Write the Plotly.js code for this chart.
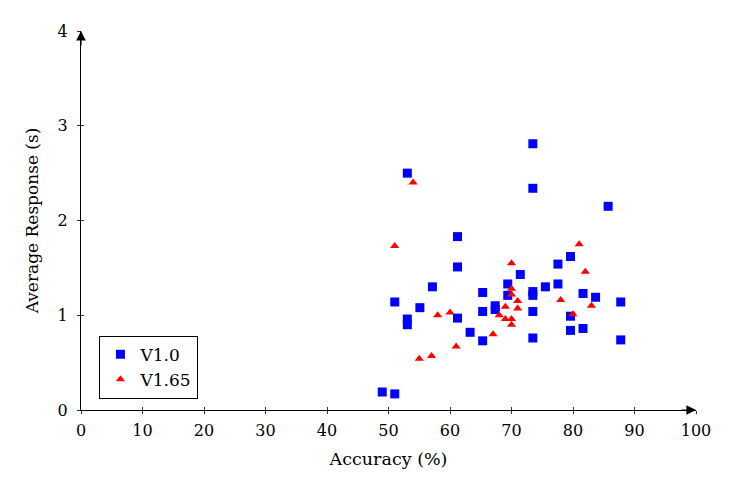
<!DOCTYPE html>
<html>
<head>
<meta charset="utf-8">
<script src="https://cdn.plot.ly/plotly-3.0.1.min.js"></script>
<style>
  html, body { margin: 0; padding: 0; background: #fff; }
  #chart { width: 737px; height: 495px; }
</style>
</head>
<body>
<div id="chart"></div>
<script>
// V1.0 (squares)
const v10Acc = [53.06, 73.47, 73.47, 85.71, 61.22, 61.22, 77.55, 79.59, 71.43, 57.14,
                69.39, 69.39, 65.31, 73.47, 73.47, 75.51, 77.55, 81.63, 83.67, 87.76,
                51.02, 55.10, 53.06, 53.06, 61.22, 65.31, 67.35, 67.35, 73.47, 79.59,
                79.59, 81.63, 63.27, 65.31, 73.47, 87.76, 48.98, 51.02];
const v10Resp = [2.50, 2.81, 2.34, 2.15, 1.83, 1.51, 1.54, 1.62, 1.43, 1.30,
                 1.33, 1.21, 1.24, 1.25, 1.21, 1.30, 1.33, 1.23, 1.19, 1.14,
                 1.14, 1.08, 0.96, 0.90, 0.97, 1.04, 1.10, 1.06, 1.04, 0.99,
                 0.84, 0.86, 0.82, 0.73, 0.76, 0.74, 0.19, 0.17];

// V1.65 (triangles)
const v165Acc = [54, 51, 81, 70, 82, 70, 70, 71, 71, 69, 78, 83,
                 80, 58, 60, 68, 69, 70, 70, 67, 61, 57, 55];
const v165Resp = [2.40, 1.73, 1.75, 1.55, 1.46, 1.28, 1.22, 1.15, 1.07, 1.09, 1.16, 1.10,
                  1.01, 1.00, 1.03, 1.00, 0.96, 0.96, 0.90, 0.80, 0.67, 0.57, 0.54];

const xTicks = [0, 10, 20, 30, 40, 50, 60, 70, 80, 90, 100];
const yTicks = [0, 1, 2, 3, 4];

const serif = 'DejaVu Serif';

const traces = [
  {
    x: v10Acc, y: v10Resp, name: 'V1.0',
    type: 'scatter', mode: 'markers',
    marker: { symbol: 'square', size: 9, color: '#0000ff', line: { width: 0 } },
    cliponaxis: false
  },
  {
    x: v165Acc, y: v165Resp, name: 'V1.65',
    type: 'scatter', mode: 'markers',
    marker: { symbol: 'triangle-up', size: 8, color: '#ff0000', line: { width: 0 } },
    cliponaxis: false
  }
];

const layout = {
  width: 737, height: 495,
  margin: { l: 81, r: 41, t: 31, b: 85 },
  paper_bgcolor: '#fff', plot_bgcolor: '#fff',
  font: { family: serif, size: 17, color: '#000' },
  showlegend: true,
  legend: {
    x: 0.03, y: 0.03, xanchor: 'left', yanchor: 'bottom',
    bordercolor: '#000', borderwidth: 1, bgcolor: '#fff',
    font: { family: serif, size: 17 },
    itemwidth: 30, tracegroupgap: 0
  },
  xaxis: {
    range: [0, 100], tickvals: xTicks, ticktext: xTicks.map(String),
    tickfont: { family: serif, size: 16 },
    showgrid: false, zeroline: false, showline: true, linecolor: '#000', linewidth: 1.2,
    ticks: 'outside', ticklen: 3, tickcolor: '#000', tickwidth: 0.8,
    ticklabelstandoff: 3,
    title: { text: 'Accuracy (%)', font: { family: serif, size: 17.5 }, standoff: 13 },
    automargin: false, fixedrange: true
  },
  yaxis: {
    range: [0, 4], tickvals: yTicks, ticktext: yTicks.map(String),
    tickfont: { family: serif, size: 16 },
    showgrid: false, zeroline: false, showline: true, linecolor: '#000', linewidth: 1.2,
    ticks: 'outside', ticklen: 3, tickcolor: '#000', tickwidth: 0.8,
    ticklabelstandoff: 6,
    title: { text: 'Average Response (s)', font: { family: serif, size: 17 }, standoff: 14 },
    automargin: false, fixedrange: true
  },
  // second set of axes only to draw the inner half of each tick
  xaxis2: {
    overlaying: 'x', anchor: 'y', side: 'bottom', range: [0, 100], tickvals: xTicks,
    showticklabels: false, showgrid: false, zeroline: false, showline: false,
    ticks: 'inside', ticklen: 3, tickcolor: '#000', tickwidth: 0.8, fixedrange: true
  },
  yaxis2: {
    overlaying: 'y', anchor: 'x', side: 'left', range: [0, 4], tickvals: yTicks,
    showticklabels: false, showgrid: false, zeroline: false, showline: false,
    ticks: 'inside', ticklen: 3, tickcolor: '#000', tickwidth: 0.8, fixedrange: true
  },
  annotations: [
    { x: 100, y: 0, xref: 'x', yref: 'y', ax: -16, ay: 0, text: '', showarrow: true,
      arrowhead: 2, arrowsize: 1.6, arrowwidth: 1.2, arrowcolor: '#000' },
    { x: 0, y: 4, xref: 'x', yref: 'y', ax: 0, ay: 16, text: '', showarrow: true,
      arrowhead: 2, arrowsize: 1.6, arrowwidth: 1.2, arrowcolor: '#000' }
  ]
};

// dummy empty trace so the overlay axes get drawn
traces.push({ x: [], y: [], xaxis: 'x2', yaxis: 'y2', type: 'scatter', mode: 'markers',
              showlegend: false, hoverinfo: 'skip' });

Plotly.newPlot('chart', traces, layout, { displayModeBar: false, staticPlot: true });
</script>
</body>
</html>
